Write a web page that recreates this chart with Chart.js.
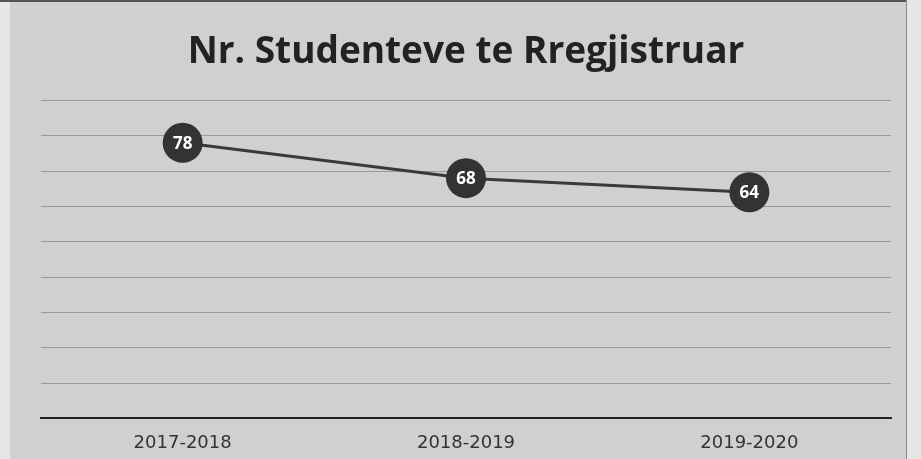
<!DOCTYPE html>
<html>
<head>
<meta charset="utf-8">
<script src="https://cdn.jsdelivr.net/npm/chart.js@4/dist/chart.umd.min.js"></script>
<style>
html,body{margin:0;padding:0;background:#d4d4d4;}
#wrap{position:relative;width:921px;height:459px;}
canvas{display:block;}
</style>
</head>
<body>
<div id="wrap"><canvas id="c" width="921" height="459"></canvas></div>
<script>
const categories = ["2017-2018", "2018-2019", "2019-2020"];
const students = [78, 68, 64];
const chartTitle = "Nr. Studenteve te Rregjistruar";

const bgPlugin = {
  id: 'bg',
  beforeDraw(chart) {
    const ctx = chart.ctx;
    ctx.save();
    ctx.fillStyle = '#d0d0d0';
    ctx.fillRect(0, 0, chart.width, chart.height);
    ctx.fillStyle = '#e6e6e6';
    ctx.fillRect(0, 0, 10, chart.height);
    ctx.fillStyle = '#555';
    ctx.fillRect(0, 0, 908, 2);
    ctx.fillStyle = '#888';
    ctx.fillRect(906, 0, 1, chart.height);
    ctx.fillStyle = '#e6e6e6';
    ctx.fillRect(907, 0, chart.width - 907, chart.height);
    ctx.restore();
  }
};

const labelPlugin = {
  id: 'pointLabels',
  afterDatasetsDraw(chart) {
    const ctx = chart.ctx;
    const meta = chart.getDatasetMeta(0);
    ctx.save();
    ctx.fillStyle = '#ffffff';
    ctx.font = 'bold 17px "Open Sans", sans-serif';
    ctx.textAlign = 'center';
    ctx.textBaseline = 'middle';
    meta.data.forEach((pt, i) => {
      ctx.fillText(String(chart.data.datasets[0].data[i]), pt.x, pt.y + 1);
    });
    ctx.restore();
  }
};

new Chart(document.getElementById('c'), {
  type: 'line',
  data: {
    labels: categories,
    datasets: [{
      data: students,
      borderColor: '#3a3a3a',
      borderWidth: 3,
      pointRadius: 20,
      pointHoverRadius: 20,
      pointBackgroundColor: '#333333',
      pointBorderColor: '#333333',
      pointBorderWidth: 0,
      tension: 0
    }]
  },
  options: {
    responsive: false,
    animation: false,
    devicePixelRatio: 1,
    layout: { padding: { left: 41, right: 30, top: 0, bottom: -9 } },
    plugins: {
      legend: { display: false },
      tooltip: { enabled: false },
      title: {
        display: true,
        text: chartTitle,
        color: '#222222',
        font: { family: '"Open Sans", sans-serif', size: 37, weight: 'bold' },
        padding: { top: 30, bottom: 26 }
      }
    },
    scales: {
      x: {
        offset: true,
        grid: { display: false, drawTicks: false },
        border: { display: true, color: '#222222', width: 2 },
        ticks: {
          color: '#333333',
          padding: 14,
          font: { family: '"DejaVu Sans", sans-serif', size: 18 }
        }
      },
      y: {
        min: 0,
        max: 90,
        ticks: { display: false, stepSize: 10 },
        grid: { color: '#9a9a9a', lineWidth: 1, drawTicks: false },
        border: { display: false }
      }
    }
  },
  plugins: [bgPlugin, labelPlugin]
});
</script>
</body>
</html>
